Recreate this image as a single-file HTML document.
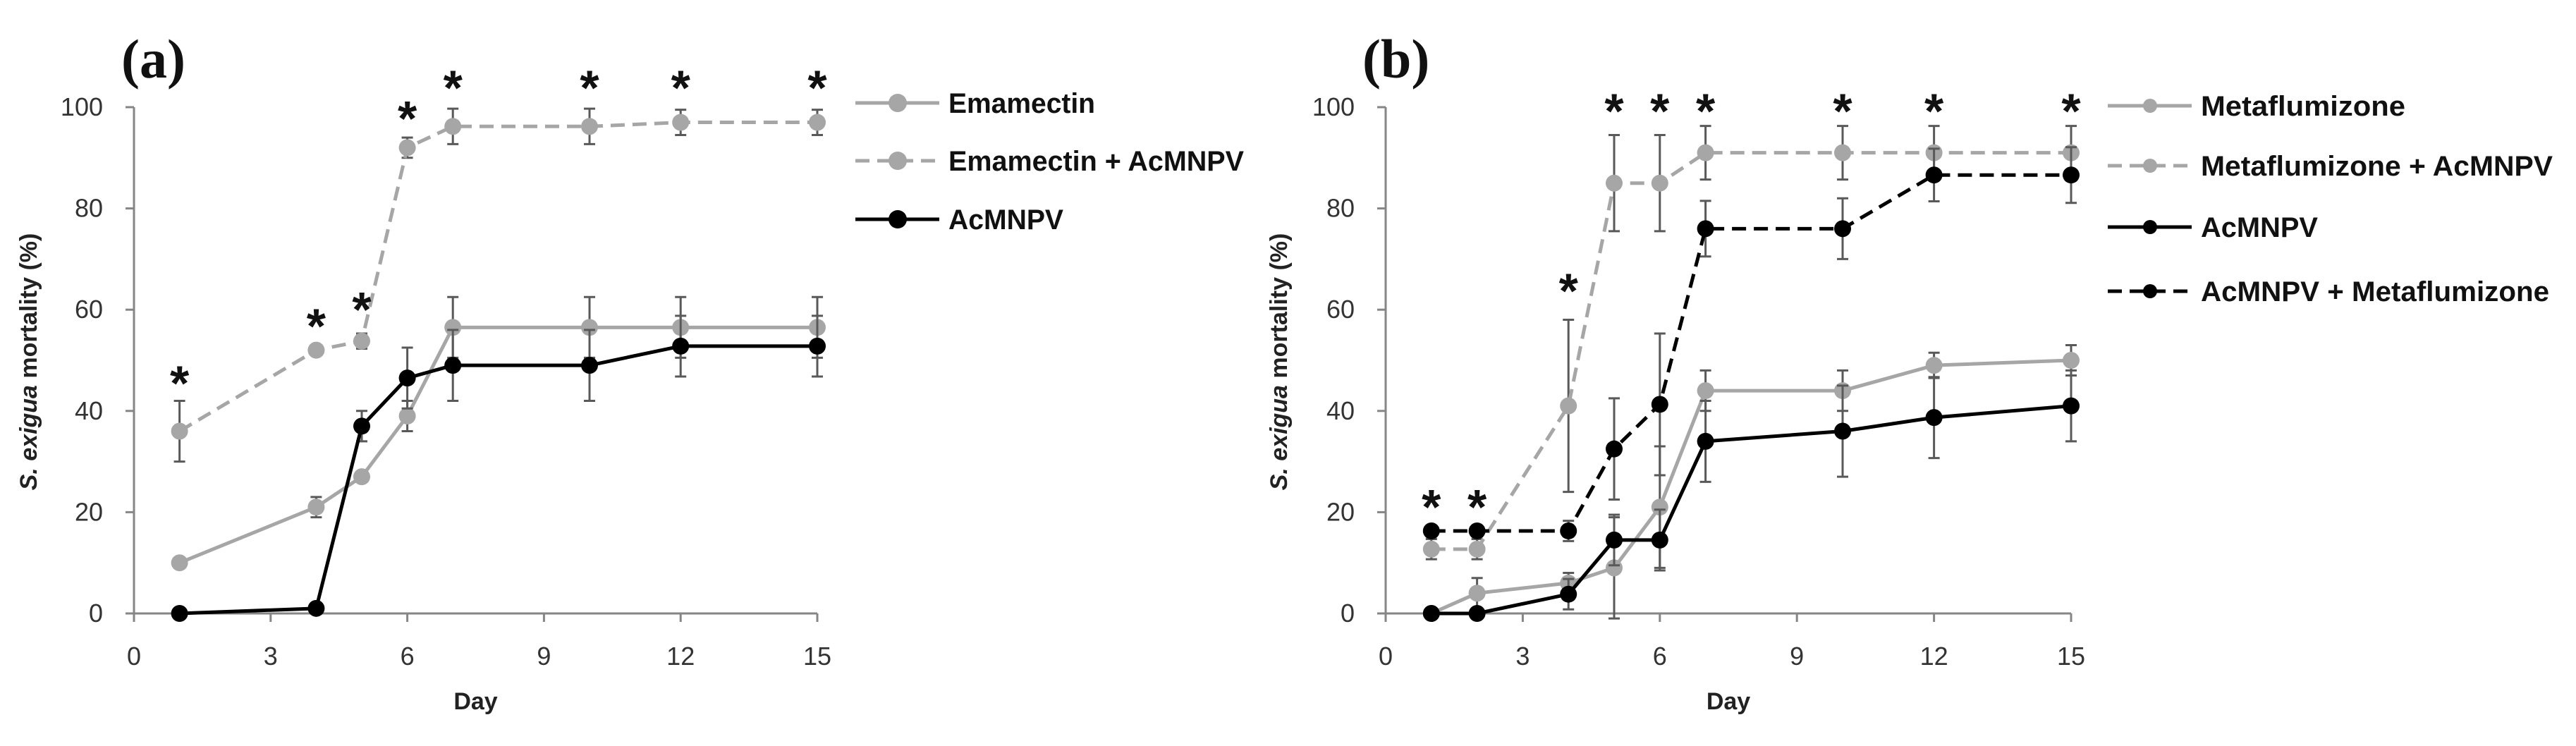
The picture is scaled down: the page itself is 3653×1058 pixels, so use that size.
<!DOCTYPE html>
<html><head><meta charset="utf-8"><style>
html,body{margin:0;padding:0;background:#fff;}
svg{display:block;}
text{font-family:"Liberation Sans",sans-serif;}
</style></head><body>
<svg id="fig" width="3653" height="1058" viewBox="0 0 3653 1058" xmlns="http://www.w3.org/2000/svg"></svg>
<script>
// ---- data: panel (a) ----
const daysA = [1,4,5,6,7,10,12,15];
const emamectin = [10,21,27,39,56.5,56.5,56.5,56.5];
const emamectinErr = [0,2,1,3,6,6,6,6];
const emamectinAc = [36,52,53.8,92,96.2,96.2,97,97];
const emamectinAcErr = [6,1,1.5,2,3.5,3.5,2.5,2.5];
const acmnpvA = [0,1,37,46.5,49,49,52.8,52.8];
const acmnpvAErr = [0,0,3,6,7,7,6,6];
const starDaysA = [1,4,5,6,7,10,12,15];
const starYA = [47.4,58.7,62,99.7,105.8,105.8,105.8,105.8];
// ---- data: panel (b) ----
const daysB = [1,2,4,5,6,7,10,12,15];
const metaflumizone = [0,4,6,9,21,44,44,49,50];
const metaflumizoneErr = [0,3,2,10,12,4,4,2.5,3];
const metaAc = [12.7,12.7,41,85,85,91,91,91,91];
const metaAcErr = [2,2,17,9.5,9.5,5.3,5.3,5.3,5.3];
const acmnpvB = [0,0,3.8,14.5,14.5,34,36,38.7,41];
const acmnpvBErr = [0,0,3,5,6,8,9,8,7];
const acMeta = [16.3,16.3,16.3,32.5,41.3,76,76,86.6,86.6];
const acMetaErr = [1,1,2,10,14,5.5,6,5.2,5.5];
const starDaysB = [1,2,4,5,6,7,10,12,15];
const starYB = [23,23,65.7,101.2,101.2,101.2,101.2,101.2,101.2];
const yTicks = [0,20,40,60,80,100];
const xTicks = [0,3,6,9,12,15];

const NS = "http://www.w3.org/2000/svg";
const svg = document.getElementById('fig');
function mk(tag, attrs, parent){
  const e = document.createElementNS(NS, tag);
  for (const k in attrs) e.setAttribute(k, attrs[k]);
  (parent||svg).appendChild(e);
  return e;
}
const GRAY = "#a6a6a6", AXIS = "#868686", ERR = "#595959";

function panel(cfg){
  const g = mk('g', {});
  
  
  const x0 = cfg.x0, x1 = cfg.x1, y0 = 870, y1 = 152;
  const sx = d => x0 + (x1 - x0) * d / 15;
  const sy = v => y0 - (y0 - y1) * v / 100;
  const ya = mk('line', {x1:x0, y1:y1, x2:x0, y2:y0, stroke:AXIS, 'stroke-width':3}, g);
  
  
  const xa = mk('line', {x1:x0-12, y1:y0, x2:x1, y2:y0, stroke:AXIS, 'stroke-width':3}, g);
  
  
  yTicks.forEach(t => {
    mk('line', {x1:x0-12, y1:sy(t), x2:x0, y2:sy(t), stroke:AXIS, 'stroke-width':3}, g);
    const tl = mk('text', {x:cfg.x0-44, y:sy(t)+12, 'text-anchor':'end', 'font-size':36, fill:'#333'}, g);
    tl.textContent = t;
    
    
  });
  xTicks.forEach(t => {
    mk('line', {x1:sx(t), y1:y0, x2:sx(t), y2:y0+12, stroke:AXIS, 'stroke-width':3}, g);
    const tl = mk('text', {x:sx(t), y:943, 'text-anchor':'middle', 'font-size':36, fill:'#333'}, g);
    tl.textContent = t;
    
    
  });
  const xt = mk('text', {x:(x0+x1)/2, y:1006, 'text-anchor':'middle', 'font-size':34, 'font-weight':'bold', fill:'#222'}, g);
  xt.textContent = 'Day';
  
  
  const yt = mk('text', {x:0, y:0, 'text-anchor':'middle', 'font-size':34, 'font-weight':'bold', fill:'#222', transform:`translate(${cfg.ytx},${(y0+y1)/2+2}) rotate(-90)`}, g);
  yt.innerHTML = '<tspan font-style="italic">S. exigua</tspan> mortality (%)';
  
  
  const pt = mk('text', {x:cfg.titleX, y:110, 'font-size':78, 'font-weight':'bold', fill:'#111'}, g);
  pt.setAttribute('style', 'font-family:"Liberation Serif",serif');
  pt.textContent = cfg.title;
  
  
  cfg.series.forEach(s => {
    const sg = mk('g', {}, g);
    
    
    s.vals.forEach((v, i) => {
      const e = s.err[i];
      if (e > 0) {
        const x = sx(cfg.days[i]);
        const eb = mk('path', {d:`M${x},${sy(v+e)}V${sy(v-e)}M${x-8},${sy(v+e)}H${x+8}M${x-8},${sy(v-e)}H${x+8}`, stroke:ERR, 'stroke-width':3, fill:'none'}, sg);
        
        
      }
    });
    const pts = s.vals.map((v, i) => `${sx(cfg.days[i])},${sy(v)}`).join(' ');
    const ln = mk('polyline', {points:pts, fill:'none', stroke:s.color, 'stroke-width':5, 'stroke-linejoin':'round'}, sg);
    if (s.dash) ln.setAttribute('stroke-dasharray', '20 11');
    
    
    s.vals.forEach((v, i) => {
      const c = mk('circle', {cx:sx(cfg.days[i]), cy:sy(v), r:12, fill:s.color}, sg);
      
      
    });
  });
  cfg.starDays.forEach((d, i) => {
    const st = mk('text', {x:sx(d), y:sy(cfg.starY[i])+38, 'text-anchor':'middle', 'font-size':70, 'font-weight':'bold', fill:'#111'}, g);
    st.textContent = '*';
    
    
  });
  const lg = mk('g', {}, g);
  
  
  cfg.series.forEach((s, i) => {
    const y = cfg.legY[i];
    const eg = mk('g', {}, lg);
    
    
    const l = mk('line', {x1:cfg.legX, y1:y, x2:cfg.legX+119, y2:y, stroke:s.color, 'stroke-width':5}, eg);
    if (s.dash) l.setAttribute('stroke-dasharray', '20 11');
    mk('circle', {cx:cfg.legX+60, cy:y, r:cfg.legR, fill:s.color}, eg);
    const t = mk('text', {x:cfg.legX+132, y:y+14, 'font-size':40, 'font-weight':'bold', fill:'#111', textLength:s.tw, lengthAdjust:'spacingAndGlyphs'}, eg);
    t.textContent = s.label;
  });
}

panel({name:'panel-a-emamectin', x0:190, x1:1159, ytx:52, titleX:172, title:'(a)', days:daysA,
  starDays:starDaysA, starY:starYA, legX:1213, legY:[146,228,311], legR:13,
  series:[
    {id:'series-emamectin', vals:emamectin, err:emamectinErr, color:GRAY, dash:false, label:'Emamectin', tw:208},
    {id:'series-emamectin-acmnpv', vals:emamectinAc, err:emamectinAcErr, color:GRAY, dash:true, label:'Emamectin + AcMNPV', tw:419},
    {id:'series-acmnpv', vals:acmnpvA, err:acmnpvAErr, color:'#000', dash:false, label:'AcMNPV', tw:163}
  ]});
panel({name:'panel-b-metaflumizone', x0:1965, x1:2937, ytx:1825, titleX:1932, title:'(b)', days:daysB,
  starDays:starDaysB, starY:starYB, legX:2989, legY:[150,235,322,413], legR:10,
  series:[
    {id:'series-metaflumizone', vals:metaflumizone, err:metaflumizoneErr, color:GRAY, dash:false, label:'Metaflumizone', tw:290},
    {id:'series-metaflumizone-acmnpv', vals:metaAc, err:metaAcErr, color:GRAY, dash:true, label:'Metaflumizone + AcMNPV', tw:499},
    {id:'series-acmnpv-b', vals:acmnpvB, err:acmnpvBErr, color:'#000', dash:false, label:'AcMNPV', tw:166},
    {id:'series-acmnpv-metaflumizone', vals:acMeta, err:acMetaErr, color:'#000', dash:true, label:'AcMNPV + Metaflumizone', tw:494}
  ]});
</script>
</body></html>
